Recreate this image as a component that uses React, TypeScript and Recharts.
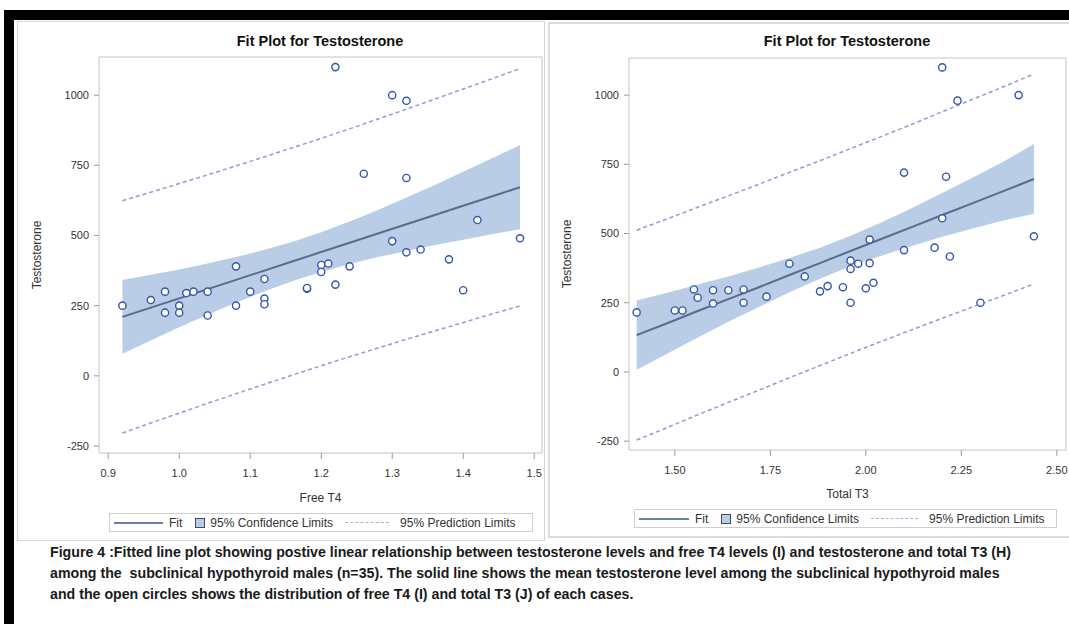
import { ComposedChart, Area, Line, Scatter, XAxis, YAxis } from 'recharts'

// Free T4 panel
const t4X = [0.92, 0.96, 0.98, 0.98, 1.0, 1.0, 1.01, 1.02, 1.04, 1.04, 1.08, 1.08, 1.1, 1.12, 1.12, 1.12, 1.18, 1.18, 1.2, 1.2, 1.21, 1.22, 1.22, 1.24, 1.26, 1.3, 1.3, 1.32, 1.32, 1.32, 1.34, 1.38, 1.4, 1.42, 1.48]
const t4Testo = [250, 270, 300, 225, 250, 225, 295, 300, 300, 215, 390, 250, 300, 345, 275, 255, 310, 313, 395, 370, 400, 1100, 325, 390, 720, 1000, 480, 980, 705, 440, 450, 415, 305, 555, 490]
const t4Grid = [0.92, 0.96, 1.0, 1.04, 1.08, 1.12, 1.16, 1.2, 1.24, 1.28, 1.32, 1.36, 1.4, 1.44, 1.48]
const t4Fit = [210, 243, 276, 309, 342, 375, 408, 441, 474, 507, 540, 573, 606, 639, 672]
const t4CiLo = [79, 126, 173, 218, 261, 301, 338, 370, 398, 423, 445, 466, 485, 504, 522]
const t4CiHi = [341, 360, 379, 400, 423, 449, 478, 512, 550, 591, 635, 680, 727, 774, 822]
const t4PiLo = [-204, -168, -133, -98, -64, -30, 3, 36, 68, 99, 130, 160, 190, 220, 249]
const t4PiHi = [624, 654, 685, 716, 748, 780, 813, 846, 880, 915, 950, 986, 1022, 1058, 1095]
const t4Ticks = [0.9, 1.0, 1.1, 1.2, 1.3, 1.4, 1.5]

// Total T3 panel
const t3X = [1.4, 1.5, 1.52, 1.55, 1.56, 1.6, 1.6, 1.64, 1.68, 1.68, 1.74, 1.8, 1.84, 1.88, 1.9, 1.94, 1.96, 1.96, 1.96, 1.98, 2.0, 2.01, 2.01, 2.02, 2.1, 2.1, 2.18, 2.2, 2.2, 2.21, 2.22, 2.24, 2.3, 2.4, 2.44]
const t3Testo = [215, 222, 222, 298, 268, 295, 247, 295, 298, 250, 272, 391, 345, 291, 310, 306, 402, 372, 250, 391, 302, 478, 393, 322, 720, 440, 449, 1100, 555, 705, 417, 980, 250, 1000, 490]
const t3Grid = [1.4, 1.48, 1.56, 1.64, 1.72, 1.8, 1.88, 1.96, 2.04, 2.12, 2.2, 2.28, 2.36, 2.44]
const t3Fit = [133, 176, 220, 263, 306, 350, 393, 437, 480, 523, 567, 610, 653, 697]
const t3CiLo = [8, 66, 124, 181, 235, 288, 337, 382, 420, 455, 488, 518, 547, 571]
const t3CiHi = [258, 286, 316, 345, 377, 412, 449, 492, 540, 591, 646, 702, 759, 823]
const t3PiLo = [-246, -201, -155, -110, -66, -21, 23, 67, 110, 152, 194, 235, 276, 318]
const t3PiHi = [512, 553, 595, 636, 678, 721, 763, 807, 850, 894, 940, 985, 1030, 1076]
const t3Ticks = [1.5, 1.75, 2.0, 2.25, 2.5]

const yTicks = [-250, 0, 250, 500, 750, 1000]

const FONT = '"Liberation Sans", Arial, sans-serif'
const FRAME = '#c4c4c4'
const TICK = '#9a9a9a'
const TXT = '#333'

const Ring = (p: any) => (
  <circle cx={p.cx} cy={p.cy} r={3.6} fill="#fff" stroke="#3456b0" strokeWidth={1.4} />
)

function FitPlot(props: any) {
  const { xs, ys, grid, fit, ciLo, ciHi, piLo, piHi, xDomain, yDomain, xTicks, digits, xLabel, w, h, margin, labelOffset } = props
  const band = grid.map((x: number, i: number) => ({
    x, fit: fit[i], ci: [ciLo[i], ciHi[i]], piLo: piLo[i], piHi: piHi[i],
  }))
  const pts = xs.map((x: number, i: number) => ({ x, y: ys[i] }))
  return (
    <ComposedChart width={w} height={h} data={band} margin={margin}>
      <XAxis
        type="number" dataKey="x" domain={xDomain} ticks={xTicks} allowDataOverflow
        tickFormatter={(v: number) => v.toFixed(digits)}
        tick={{ fill: TXT, fontSize: 11, fontFamily: FONT }}
        tickSize={6} tickMargin={10} height={47}
        axisLine={{ stroke: FRAME }} tickLine={{ stroke: TICK }}
        label={{ value: xLabel, position: 'insideBottom', offset: labelOffset, fill: TXT, fontSize: 12, fontFamily: FONT }}
      />
      <XAxis xAxisId="top" orientation="top" type="number" domain={xDomain} allowDataOverflow
        tick={false} tickLine={false} height={1} axisLine={{ stroke: FRAME }} />
      <YAxis
        type="number" domain={yDomain} ticks={yTicks} allowDataOverflow
        tick={{ fill: TXT, fontSize: 11, fontFamily: FONT }}
        tickSize={5} tickMargin={5} width={80}
        axisLine={{ stroke: FRAME }} tickLine={{ stroke: TICK }}
        label={{ value: 'Testosterone', angle: -90, position: 'insideLeft', offset: 18, fill: TXT, fontSize: 12, fontFamily: FONT, style: { textAnchor: 'middle' } }}
      />
      <YAxis yAxisId="right" orientation="right" type="number" domain={yDomain} allowDataOverflow
        tick={false} tickLine={false} width={1} axisLine={{ stroke: FRAME }} />
      <Area dataKey="ci" type="linear" stroke="none" fill="#b9cde6" fillOpacity={1} isAnimationActive={false} />
      <Line dataKey="fit" type="linear" stroke="#5b6a8e" strokeWidth={2} dot={false} isAnimationActive={false} />
      <Line dataKey="piHi" type="linear" stroke="#8d9dd2" strokeWidth={1.5} strokeDasharray="4 3" dot={false} isAnimationActive={false} />
      <Line dataKey="piLo" type="linear" stroke="#8d9dd2" strokeWidth={1.5} strokeDasharray="4 3" dot={false} isAnimationActive={false} />
      <Scatter data={pts} dataKey="y" shape={Ring} isAnimationActive={false} />
    </ComposedChart>
  )
}

function FitLegend({ left, top, width, lineW, dashW }: any) {
  const txt = { fontSize: 12, color: TXT, fontFamily: FONT, whiteSpace: 'nowrap' as const }
  return (
    <div style={{
      position: 'absolute', left, top, width, height: 19, border: '1px solid #cfcfcf',
      display: 'flex', alignItems: 'center', paddingLeft: 4, boxSizing: 'border-box',
    }}>
      <div style={{ width: lineW, height: 2, background: '#6c7ea3' }} />
      <span style={{ ...txt, marginLeft: 6 }}>Fit</span>
      <div style={{ width: 8, height: 8, marginLeft: 13, background: '#b9cde6', border: '1px solid #3e4d6e' }} />
      <span style={{ ...txt, marginLeft: 5 }}>95% Confidence Limits</span>
      <div style={{ width: dashW, marginLeft: 12, borderTop: '1.5px dashed #a3b1e0' }} />
      <span style={{ ...txt, marginLeft: 11 }}>95% Prediction Limits</span>
    </div>
  )
}

const titleStyle = {
  position: 'absolute' as const, top: 33, width: 300, textAlign: 'center' as const,
  fontFamily: FONT, fontWeight: 700, fontSize: 14.5, color: '#111',
}

const caption = [
  'Figure 4 :Fitted line plot showing postive linear relationship between testosterone levels and free T4 levels (I) and testosterone and total T3 (H)',
  'among the  subclinical hypothyroid males (n=35). The solid line shows the mean testosterone level among the subclinical hypothyroid males',
  'and the open circles shows the distribution of free T4 (I) and total T3 (J) of each cases.',
]

export default function App() {
  return (
    <div style={{ position: 'absolute', left: 0, top: 0, width: 1069, height: 624, background: '#fff', overflow: 'hidden' }}>
      <div style={{ position: 'absolute', left: 4, top: 10, width: 1065, height: 10, background: '#000' }} />
      <div style={{ position: 'absolute', left: 4, top: 10, width: 10, height: 614, background: '#000' }} />
      <div style={{ position: 'absolute', left: 17, top: 21, width: 528, height: 520, border: '1px solid #d6d6d6', boxSizing: 'border-box' }} />
      <div style={{ position: 'absolute', left: 548, top: 22, width: 530, height: 516, border: '2px solid #dcdcdc', boxSizing: 'border-box' }} />

      <div style={{ ...titleStyle, left: 170 }}>Fit Plot for Testosterone</div>
      <div style={{ ...titleStyle, left: 697 }}>Fit Plot for Testosterone</div>

      <div style={{ position: 'absolute', left: 0, top: 0 }}>
        <FitPlot
          xs={t4X} ys={t4Testo} grid={t4Grid} fit={t4Fit} ciLo={t4CiLo} ciHi={t4CiHi} piLo={t4PiLo} piHi={t4PiHi}
          xDomain={[0.887, 1.511]} yDomain={[-275, 1136]} xTicks={t4Ticks} digits={1} xLabel="Free T4"
          w={560} h={540} margin={{ top: 56, right: 17, bottom: 40, left: 19 }} labelOffset={-2}
        />
      </div>
      <div style={{ position: 'absolute', left: 548, top: 0 }}>
        <FitPlot
          xs={t3X} ys={t3Testo} grid={t3Grid} fit={t3Fit} ciLo={t3CiLo} ciHi={t3CiHi} piLo={t3PiLo} piHi={t3PiHi}
          xDomain={[1.38, 2.524]} yDomain={[-282, 1134]} xTicks={t3Ticks} digits={2} xLabel="Total T3"
          w={521} h={540} margin={{ top: 57, right: 2, bottom: 43, left: 1 }} labelOffset={-1}
        />
      </div>

      <FitLegend left={109} top={513} width={424} lineW={49} dashW={44} />
      <FitLegend left={634} top={509} width={423} lineW={50} dashW={47} />

      <div style={{
        position: 'absolute', left: 50, top: 542, fontFamily: FONT, fontWeight: 700,
        fontSize: 14.2, lineHeight: '21px', color: '#1a1a1a', whiteSpace: 'pre',
      }}>
        {caption.map((c, i) => <div key={i}>{c}</div>)}
      </div>
    </div>
  )
}
